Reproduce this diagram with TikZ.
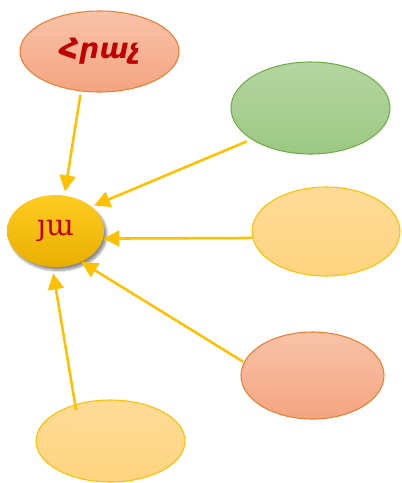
\documentclass[tikz,border=0pt]{standalone}
\usepackage{fontspec}
\newfontfamily\armsans{DejaVu Sans}
\newfontfamily\armserif{DejaVu Serif}
\usetikzlibrary{shapes.geometric,arrows.meta,shadows.blur}
\definecolor{salmonTop}{HTML}{F8C3A8}
\definecolor{salmonBot}{HTML}{F4A480}
\definecolor{salmonLine}{HTML}{ED7D31}
\definecolor{greenTop}{HTML}{B4D6A1}
\definecolor{greenBot}{HTML}{9CC882}
\definecolor{greenLine}{HTML}{70AD47}
\definecolor{lightTop}{HTML}{FFDB97}
\definecolor{lightBot}{HTML}{FFD47F}
\definecolor{goldLine}{HTML}{FFC000}
\definecolor{goldTop}{HTML}{FFCC22}
\definecolor{goldBot}{HTML}{E9AE00}
\definecolor{darkred}{HTML}{C00000}
\tikzset{
  bubble/.style={ellipse, inner sep=0pt, line width=0.8pt},
  salmonbubble/.style={bubble, draw=salmonLine, top color=salmonTop, bottom color=salmonBot},
  greenbubble/.style={bubble, draw=greenLine, top color=greenTop, bottom color=greenBot},
  lightbubble/.style={bubble, draw=goldLine, top color=lightTop, bottom color=lightBot},
  goldbubble/.style={bubble, draw=none, top color=goldTop, bottom color=goldBot,
     blur shadow={shadow xshift=2pt, shadow yshift=-2.5pt, shadow blur steps=8, shadow opacity=45}},
  link/.style={draw=goldLine, line width=1.9pt, -{Triangle[length=12pt,width=12pt]}},
}
\begin{document}
\begin{tikzpicture}[x=0.75pt,y=-0.75pt]
\useasboundingbox (0,0) rectangle (401,483);
\node[salmonbubble, minimum width=119.25pt, minimum height=60.75pt] (T) at (99.5,51.5)
  {\armsans\bfseries\itshape\fontsize{21}{24}\selectfont\color{darkred}Հրաչ};
\node[greenbubble, minimum width=119.25pt, minimum height=69pt] (G) at (310.5,108) {};
\node[lightbubble, minimum width=111pt, minimum height=66.75pt] (R) at (326,231.5) {};
\node[salmonbubble, minimum width=107.25pt, minimum height=65.25pt] (S) at (312.5,375.5) {};
\node[lightbubble, minimum width=111.75pt, minimum height=61.5pt] (B) at (110.5,441) {};
\node[goldbubble, minimum width=72.75pt, minimum height=54pt] (C) at (55.5,231)
  {\armserif\fontsize{22}{25}\selectfont\color{darkred}յա};
\draw[link, shorten <=2.5pt, shorten >=2.8pt] (T.245.4) -- (C.76.3);
\draw[link, shorten <=3.8pt, shorten >=1.8pt] (G.208.5) -- (C.34.7);
\draw[link] (R.185.9) -- (C.-9);
\draw[link, shorten <=0.7pt] (S.169.8) -- (C.-50.6);
\draw[link, shorten <=-4.3pt, shorten >=4.5pt] (B.134.6) -- (C.265.2);
\end{tikzpicture}
\end{document}
